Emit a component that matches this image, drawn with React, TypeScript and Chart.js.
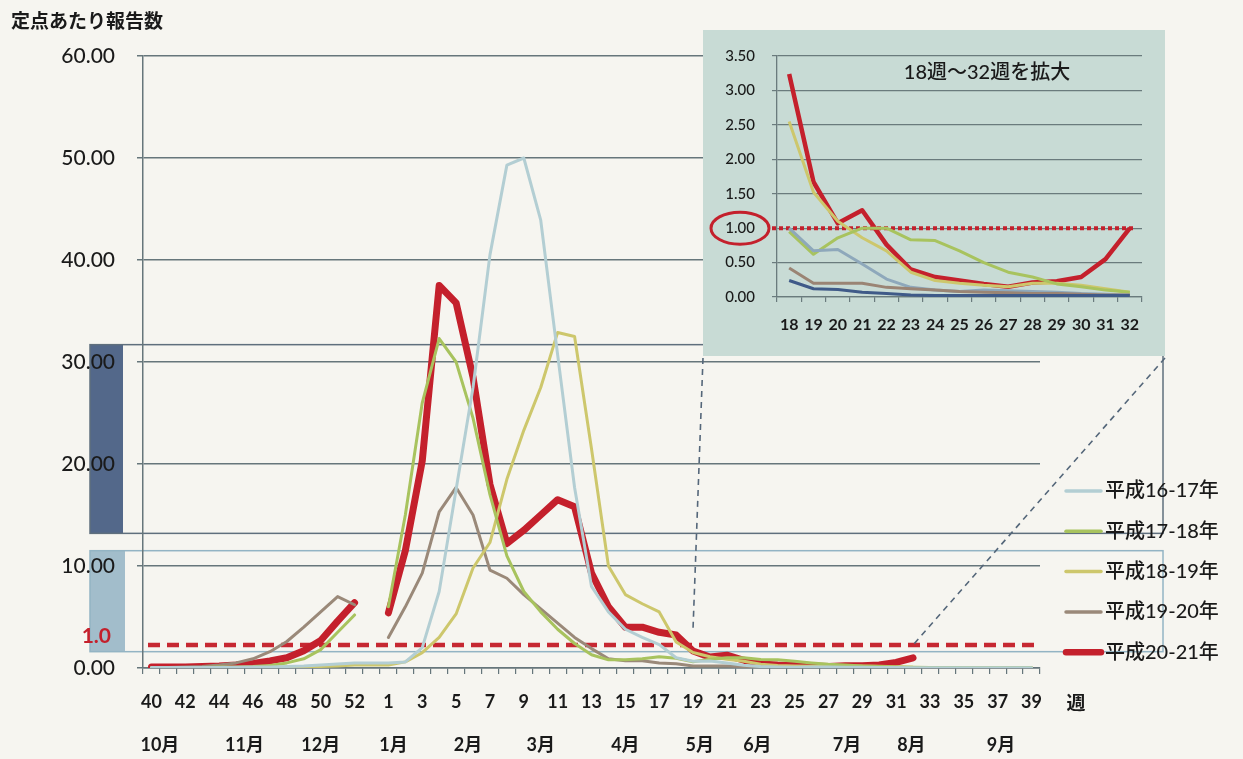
import React, { useEffect, useRef } from 'react';
import { Chart, registerables } from 'chart.js';

Chart.register(...registerables);

// ---------------- data ----------------
const weekLabels = [
  '40', '41', '42', '43', '44', '45', '46', '47', '48', '49', '50', '51', '52', '53',
  '1', '2', '3', '4', '5', '6', '7', '8', '9', '10', '11', '12', '13', '14', '15', '16', '17',
  '18', '19', '20', '21', '22', '23', '24', '25', '26', '27', '28', '29', '30', '31', '32',
  '33', '34', '35', '36', '37', '38', '39',
];

const monthLabels = ['10月', '11月', '12月', '1月', '2月', '3月', '4月', '5月', '6月', '7月', '8月', '9月'];
// fractional category index where each month label sits
const monthPositions = [0.5, 5.5, 10, 14.3, 18.7, 23, 28, 32.4, 35.8, 41.1, 44.9, 50.2];

const seriesNames = ['平成16-17年', '平成17-18年', '平成18-19年', '平成19-20年', '平成20-21年'];

// weeks 40..53, 1..17
const h1617Early = [0.05, 0.05, 0.05, 0.05, 0.05, 0.08, 0.1, 0.1, 0.15, 0.2, 0.3, 0.4, 0.5, 0.5,
  0.5, 0.6, 2.0, 7.5, 17.5, 27.5, 40.5, 49.3, 50.0, 43.9, 30.7, 17.7, 8.0, 5.5, 3.8, 3.0, 2.3];
const h1718Early = [0.05, 0.05, 0.05, 0.05, 0.1, 0.1, 0.15, 0.25, 0.5, 0.9, 1.8, 3.5, 5.2, null,
  6.0, 15.0, 26.0, 32.3, 30.0, 24.5, 17.0, 11.0, 7.5, 5.5, 3.8, 2.4, 1.3, 0.8, 0.8, 0.9, 1.1];
const h1819Early = [0.02, 0.02, 0.02, 0.02, 0.03, 0.03, 0.05, 0.05, 0.08, 0.1, 0.15, 0.2, 0.3, 0.3,
  0.3, 0.6, 1.5, 3.0, 5.3, 9.8, 12.3, 18.5, 23.3, 27.5, 32.9, 32.5, 21.5, 10.0, 7.2, 6.3, 5.5];
const h1920Early = [0.05, 0.05, 0.1, 0.15, 0.3, 0.5, 0.9, 1.6, 2.6, 4.0, 5.5, 7.0, 6.2, null,
  3.0, 6.0, 9.3, 15.3, 17.7, 15.0, 9.6, 8.8, 7.2, 5.8, 4.4, 3.0, 1.9, 0.9, 0.7, 0.7, 0.5];
const h2021Early = [0.1, 0.1, 0.1, 0.15, 0.2, 0.3, 0.45, 0.7, 1.0, 1.7, 2.7, 4.6, 6.4, null,
  5.4, 11.5, 20.3, 37.5, 35.8, 28.5, 18.0, 12.2, 13.5, 15.0, 16.5, 15.8, 9.3, 6.0, 4.0, 4.0, 3.5];

// weeks 18..32 (also the enlarged inset)
const insetWeeks = ['18', '19', '20', '21', '22', '23', '24', '25', '26', '27', '28', '29', '30', '31', '32'];
const h1617Mid = [1.0, 0.67, 0.69, 0.48, 0.26, 0.14, 0.1, 0.08, 0.1, 0.09, 0.08, 0.07, 0.05, 0.04, 0.03];
const h1718Mid = [0.95, 0.62, 0.86, 1.0, 1.0, 0.83, 0.82, 0.67, 0.5, 0.36, 0.29, 0.19, 0.15, 0.1, 0.07];
const h1819Mid = [2.55, 1.52, 1.1, 0.86, 0.67, 0.36, 0.24, 0.2, 0.17, 0.15, 0.2, 0.2, 0.17, 0.12, 0.07];
const h1920Mid = [0.42, 0.2, 0.2, 0.2, 0.14, 0.12, 0.1, 0.08, 0.07, 0.06, 0.05, 0.05, 0.04, 0.03, 0.03];
const h2021Mid = [3.24, 1.67, 1.07, 1.26, 0.76, 0.4, 0.29, 0.24, 0.19, 0.15, 0.21, 0.23, 0.29, 0.55, 1.0];
const insetExtra = [0.24, 0.12, 0.11, 0.07, 0.05, 0.03, 0.02, 0.02, 0.02, 0.02, 0.02, 0.02, 0.02, 0.02, 0.02];

// weeks 33..39
const h1617Late = [0.03, 0.02, 0.02, 0.02, 0.02, 0.02, 0.02];
const h1718Late = [0.05, 0.04, 0.03, 0.03, 0.02, 0.02, 0.02];
const h1819Late = [0.06, 0.05, 0.05, 0.04, 0.04, 0.03, 0.03];
const h1920Late = [0.03, 0.03, 0.02, 0.02, 0.02, 0.02, 0.02];
const h2021Late = [null, null, null, null, null, null, null];

const mainMax = 60;
const mainStep = 10;
const insetMax = 3.5;
const insetStep = 0.5;
const thresholdLabel = '1.0';
const thresholdDrawnAt = 2.25; // where the dashed "1.0" guide sits on the main chart
const insetThreshold = 1.0;
const insetTitle = '18週～32週を拡大';
const yTitle = '定点あたり報告数';
const weekUnit = '週';

// ---------------- styles ----------------
const PAGE_BG = '#f6f5f0';
const GRID = '#66767b';
const TEXT = '#1a1a1a';
const RED = '#c4202c';
const colors = ['#b3ced3', '#a8c35e', '#cdc76c', '#9a8979', RED];
const widths = [3, 3, 3, 3, 7];
const NUM_FONT = "Lato, 'Noto Sans CJK JP', sans-serif";
const JP_FONT = "'Noto Sans CJK JP', Lato, sans-serif";

const INSET = { left: 703, top: 30, width: 462, height: 326 };

const mainSeries = [
  [...h1617Early, ...h1617Mid, ...h1617Late],
  [...h1718Early, ...h1718Mid, ...h1718Late],
  [...h1819Early, ...h1819Mid, ...h1819Late],
  [...h1920Early, ...h1920Mid, ...h1920Late],
  [...h2021Early, ...h2021Mid, ...h2021Late],
];

const mainDeco = {
  id: 'mainDeco',
  beforeDraw(chart: any) {
    const { ctx, chartArea: ca, scales } = chart;
    const y = scales.y;
    ctx.save();
    ctx.fillStyle = PAGE_BG;
    ctx.fillRect(0, 0, chart.width, chart.height);
    const left = ca.left - 53;
    const right = ca.right + 123;
    // upper band
    const aTop = y.getPixelForValue(31.7);
    const aBot = y.getPixelForValue(13.2);
    ctx.fillStyle = '#53688a';
    ctx.fillRect(left, aTop, 33, aBot - aTop);
    ctx.strokeStyle = '#5f6f7d';
    ctx.lineWidth = 1.5;
    ctx.strokeRect(left, aTop, right - left, aBot - aTop);
    // lower band
    const bTop = y.getPixelForValue(11.5);
    const bBot = y.getPixelForValue(1.6);
    ctx.fillStyle = '#a2bdcb';
    ctx.fillRect(left, bTop, 35, bBot - bTop);
    ctx.strokeStyle = '#93b4c4';
    ctx.strokeRect(left, bTop, right - left, bBot - bTop);
    ctx.restore();
  },
  beforeDatasetsDraw(chart: any) {
    const { ctx, chartArea: ca, scales } = chart;
    const yy = scales.y.getPixelForValue(thresholdDrawnAt);
    ctx.save();
    ctx.strokeStyle = '#c62832';
    ctx.lineWidth = 4.5;
    ctx.setLineDash([12, 7]);
    ctx.beginPath();
    ctx.moveTo(ca.left + 5, yy);
    ctx.lineTo(ca.right - 3, yy);
    ctx.stroke();
    ctx.restore();
  },
  afterDraw(chart: any) {
    const { ctx, chartArea: ca, scales } = chart;
    const x = scales.x;
    const y = scales.y;
    ctx.save();
    // title
    ctx.fillStyle = TEXT;
    ctx.font = `bold 19px ${JP_FONT}`;
    ctx.textAlign = 'left';
    ctx.textBaseline = 'middle';
    ctx.fillText(yTitle, 11, 21);
    // 1.0 label
    ctx.fillStyle = '#c4202c';
    ctx.font = `bold 21px ${NUM_FONT}`;
    ctx.textAlign = 'right';
    ctx.fillText(thresholdLabel, ca.left - 32, y.getPixelForValue(thresholdDrawnAt) - 9);
    // months
    ctx.fillStyle = TEXT;
    ctx.font = `bold 18px ${NUM_FONT}`;
    ctx.textAlign = 'center';
    monthLabels.forEach((m, i) => {
      ctx.fillText(m, x.getPixelForValue(monthPositions[i]), 745);
    });
    // 週
    ctx.font = `bold 19px ${JP_FONT}`;
    ctx.fillText(weekUnit, ca.right + 36, 703);
    // legend
    seriesNames.forEach((name, i) => {
      const cy = 491 + i * 40.3;
      ctx.strokeStyle = colors[i];
      ctx.lineWidth = i === 4 ? 6.5 : 3.5;
      ctx.lineCap = 'round';
      ctx.beginPath();
      ctx.moveTo(1066, cy);
      ctx.lineTo(1101, cy);
      ctx.stroke();
      ctx.fillStyle = TEXT;
      ctx.font = `500 20px ${NUM_FONT}`;
      ctx.textAlign = 'left';
      ctx.fillText(name, 1105, cy);
    });
    // connectors to the inset
    ctx.strokeStyle = '#55677a';
    ctx.lineWidth = 1.6;
    ctx.lineCap = 'butt';
    ctx.setLineDash([6, 5]);
    const bottom = INSET.top + INSET.height + 2;
    ctx.beginPath();
    ctx.moveTo(INSET.left, bottom);
    ctx.lineTo(x.getPixelForValue(32), y.getPixelForValue(3.9));
    ctx.moveTo(INSET.left + INSET.width, bottom);
    ctx.lineTo(x.getPixelForValue(45), y.getPixelForValue(thresholdDrawnAt));
    ctx.stroke();
    ctx.restore();
  },
};

const insetDeco = {
  id: 'insetDeco',
  beforeDraw(chart: any) {
    const { ctx } = chart;
    ctx.save();
    ctx.fillStyle = '#c8dbd5';
    ctx.fillRect(0, 0, chart.width, chart.height);
    ctx.restore();
  },
  beforeDatasetsDraw(chart: any) {
    const { ctx, chartArea: ca, scales } = chart;
    const yy = scales.y.getPixelForValue(insetThreshold);
    ctx.save();
    ctx.strokeStyle = '#c4202c';
    ctx.lineWidth = 4;
    ctx.setLineDash([4, 3]);
    ctx.beginPath();
    ctx.moveTo(ca.left - 5, yy);
    ctx.lineTo(ca.right - 9, yy);
    ctx.stroke();
    ctx.restore();
  },
  afterDraw(chart: any) {
    const { ctx, chartArea: ca, scales } = chart;
    const yy = scales.y.getPixelForValue(insetThreshold);
    ctx.save();
    ctx.strokeStyle = '#c4202c';
    ctx.lineWidth = 3;
    ctx.beginPath();
    ctx.ellipse(ca.left - 37, yy, 29, 16, 0, 0, Math.PI * 2);
    ctx.stroke();
    ctx.fillStyle = TEXT;
    ctx.font = `500 20px ${NUM_FONT}`;
    ctx.textAlign = 'center';
    ctx.textBaseline = 'middle';
    ctx.fillText(insetTitle, 284, 43);
    ctx.restore();
  },
};

export default function App() {
  const mainRef = useRef<HTMLCanvasElement | null>(null);
  const insetRef = useRef<HTMLCanvasElement | null>(null);

  useEffect(() => {
    document.body.style.margin = '0';
    document.body.style.background = PAGE_BG;

    const main = new Chart(mainRef.current as HTMLCanvasElement, {
      type: 'line',
      data: {
        labels: weekLabels,
        datasets: mainSeries.map((d, i) => ({
          label: seriesNames[i],
          data: d,
          borderColor: colors[i],
          backgroundColor: colors[i],
          borderWidth: widths[i],
          pointRadius: 0,
          tension: 0,
          spanGaps: false,
          borderJoinStyle: 'round' as const,
          borderCapStyle: 'round' as const,
        })),
      },
      options: {
        animation: false,
        responsive: false,
        devicePixelRatio: 1,
        layout: { padding: { top: 56, right: 203, bottom: 0, left: 0 } },
        plugins: { legend: { display: false }, tooltip: { enabled: false } },
        scales: {
          x: {
            type: 'category',
            offset: true,
            grid: { offset: true, drawOnChartArea: false, color: GRID, lineWidth: 1.2, tickLength: 6 },
            border: { color: GRID, width: 1.5 },
            ticks: {
              autoSkip: false,
              maxRotation: 0,
              color: TEXT,
              padding: 17,
              font: { family: NUM_FONT, size: 18, weight: 'bold' },
              callback: (_v: any, i: number) => (i % 2 === 0 ? weekLabels[i] : ''),
            },
            afterFit: (s: any) => { s.height = 91; },
          },
          y: {
            min: 0,
            max: mainMax,
            grid: { color: GRID, lineWidth: 1.5, tickLength: 6 },
            border: { color: GRID, width: 1.5 },
            ticks: {
              stepSize: mainStep,
              color: TEXT,
              padding: 22,
              font: { family: NUM_FONT, size: 21, weight: '500' },
              callback: (v: any) => Number(v).toFixed(2),
            },
            afterFit: (s: any) => { s.width = 143; },
          },
        },
      },
      plugins: [mainDeco],
    });

    const insetOrder = [5, 3, 0, 1, 2, 4];
    const insetData = [h1617Mid, h1718Mid, h1819Mid, h1920Mid, h2021Mid, insetExtra];
    const insetColors = ['#8ea8bb', '#a8c35e', '#cdc76c', '#9a8474', RED, '#3f5a88'];
    const insetWidths = [3, 3, 3, 3, 4.5, 3];
    const inset = new Chart(insetRef.current as HTMLCanvasElement, {
      type: 'line',
      data: {
        labels: insetWeeks,
        datasets: insetOrder.map((k) => ({
          data: insetData[k],
          borderColor: insetColors[k],
          borderWidth: insetWidths[k],
          pointRadius: 0,
          tension: 0,
          borderJoinStyle: 'round' as const,
        })),
      },
      options: {
        animation: false,
        responsive: false,
        devicePixelRatio: 1,
        layout: { padding: { top: 22, right: 23, bottom: 0, left: 0 } },
        plugins: { legend: { display: false }, tooltip: { enabled: false } },
        scales: {
          x: {
            type: 'category',
            offset: true,
            grid: { offset: true, drawOnChartArea: false, color: '#6a7b7d', lineWidth: 1.2, tickLength: 5 },
            border: { color: '#6a7b7d', width: 1.3 },
            ticks: {
              autoSkip: false,
              maxRotation: 0,
              color: TEXT,
              padding: 13,
              font: { family: NUM_FONT, size: 16, weight: 'bold' },
            },
            afterFit: (s: any) => { s.height = 59; },
          },
          y: {
            min: 0,
            max: insetMax,
            grid: { color: '#6a7b7d', lineWidth: 1.2, tickLength: 5 },
            border: { color: '#6a7b7d', width: 1.3 },
            ticks: {
              stepSize: insetStep,
              color: TEXT,
              padding: 17,
              font: { family: NUM_FONT, size: 15, weight: '500' },
              callback: (v: any) => Number(v).toFixed(2),
            },
            afterFit: (s: any) => { s.width = 74; },
          },
        },
      },
      plugins: [insetDeco],
    });

    return () => {
      main.destroy();
      inset.destroy();
    };
  }, []);

  return (
    <div style={{ position: 'relative', width: 1243, height: 759, background: PAGE_BG, overflow: 'hidden' }}>
      <canvas
        ref={mainRef}
        width={1243}
        height={759}
        style={{ position: 'absolute', left: 0, top: 0, width: 1243, height: 759 }}
      />
      <canvas
        ref={insetRef}
        width={INSET.width}
        height={INSET.height}
        style={{ position: 'absolute', left: INSET.left, top: INSET.top, width: INSET.width, height: INSET.height }}
      />
    </div>
  );
}
